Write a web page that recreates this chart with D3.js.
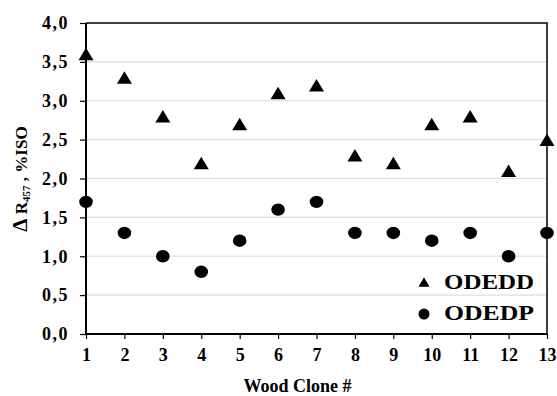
<!DOCTYPE html>
<html>
<head>
<meta charset="utf-8">
<script src="https://cdn.jsdelivr.net/npm/d3@7"></script>
<style>
  html, body { margin: 0; padding: 0; background: #fff; }
  svg { display: block; }
  svg text { font-family: 'Liberation Serif', 'Times New Roman', 'DejaVu Serif', serif !important; font-weight: bold; fill: #000; }
</style>
</head>
<body>
<svg id="chart" width="557" height="396"></svg>
<script>
// Brightness gain per wood clone for the two bleaching sequences
const clones = [1, 2, 3, 4, 5, 6, 7, 8, 9, 10, 11, 12, 13];
const odedd = [3.6, 3.3, 2.8, 2.2, 2.7, 3.1, 3.2, 2.3, 2.2, 2.7, 2.8, 2.1, 2.5];
const odedp = [1.7, 1.3, 1.0, 0.8, 1.2, 1.6, 1.7, 1.3, 1.3, 1.2, 1.3, 1.0, 1.3];
const yTicks = [0, 0.5, 1, 1.5, 2, 2.5, 3, 3.5, 4];
const seriesNames = ["ODEDD", "ODEDP"];

const svg = d3.select("#chart");
const plotL = 86, plotR = 547, plotT = 23, plotB = 334;

const x = d3.scaleLinear().domain([1, 13]).range([plotL, plotR]);
const y = d3.scaleLinear().domain([0, 4]).range([plotB, plotT]);
const fmt = d => d3.format(".1f")(d).replace(".", ",");

// horizontal gridlines
svg.append("g").selectAll("line")
  .data(yTicks.filter(d => d > 0 && d < 4))
  .join("line")
  .attr("x1", plotL).attr("x2", plotR)
  .attr("y1", d => y(d)).attr("y2", d => y(d))
  .attr("stroke", "#d8e0e0").attr("stroke-width", 1.2);

// top and right frame
svg.append("path")
  .attr("d", `M${plotL},${plotT}H${plotR}V${plotB}`)
  .attr("fill", "none").attr("stroke", "#000").attr("stroke-width", 1.5);

// y axis
const yAxis = svg.append("g")
  .attr("transform", `translate(${plotL},0)`)
  .call(d3.axisLeft(y).tickValues(yTicks).tickFormat(fmt).tickSize(6).tickPadding(11));
// x axis
const xAxis = svg.append("g")
  .attr("transform", `translate(0,${plotB})`)
  .call(d3.axisBottom(x).tickValues(clones).tickFormat(d3.format("d")).tickSize(5).tickPadding(9));

[yAxis, xAxis].forEach(g => {
  g.attr("font-family", null);
  g.select(".domain").attr("stroke", "#000").attr("stroke-width", 2);
  g.selectAll(".tick line").attr("stroke", "#000").attr("stroke-width", 1.2);
  g.selectAll(".tick text").attr("font-size", 18);
});
yAxis.selectAll(".tick text").attr("letter-spacing", 1.5);
yAxis.select(".domain").attr("d", `M0,${plotT}V${plotB}`);
xAxis.select(".domain").attr("d", `M${plotL},0H${plotR}`);

// markers
const tri = (w, h) => `M0,${-h / 2}L${w / 2},${h / 2}L${-w / 2},${h / 2}Z`;

svg.append("g").selectAll("ellipse")
  .data(clones.map((c, i) => [c, odedp[i]]))
  .join("ellipse")
  .attr("cx", d => x(d[0])).attr("cy", d => y(d[1]))
  .attr("rx", 6.8).attr("ry", 6.2)
  .attr("fill", "#000");

svg.append("g").selectAll("path")
  .data(clones.map((c, i) => [c, odedd[i]]))
  .join("path")
  .attr("transform", d => `translate(${x(d[0])},${y(d[1])})`)
  .attr("d", tri(15, 12.5))
  .attr("fill", "#000");

// legend
const legend = svg.append("g");
legend.append("path")
  .attr("transform", "translate(424,282)")
  .attr("d", tri(11, 9.5)).attr("fill", "#000");
legend.append("ellipse")
  .attr("cx", 424).attr("cy", 314).attr("rx", 5.5).attr("ry", 5.5).attr("fill", "#000");
legend.selectAll("text")
  .data(seriesNames)
  .join("text")
  .attr("x", 444).attr("y", (d, i) => 289 + i * 31)
  .attr("font-size", 20)
  .attr("textLength", 90)
  .attr("lengthAdjust", "spacingAndGlyphs")
  .text(d => d);

// axis titles
svg.append("text")
  .attr("x", (plotL + plotR) / 2 - 19).attr("y", 392)
  .attr("text-anchor", "middle")
  .attr("font-size", 18)
  .text("Wood Clone #");

const yt = svg.append("text")
  .attr("transform", "translate(27,179) rotate(-90)")
  .attr("text-anchor", "middle")
  .attr("font-size", 17);
yt.append("tspan").attr("font-size", 21).text("Δ");
yt.append("tspan").text(" R");
yt.append("tspan").attr("font-size", 11).attr("dy", 3).text("457");
yt.append("tspan").attr("dy", -3).text(" , %ISO");
</script>
</body>
</html>
